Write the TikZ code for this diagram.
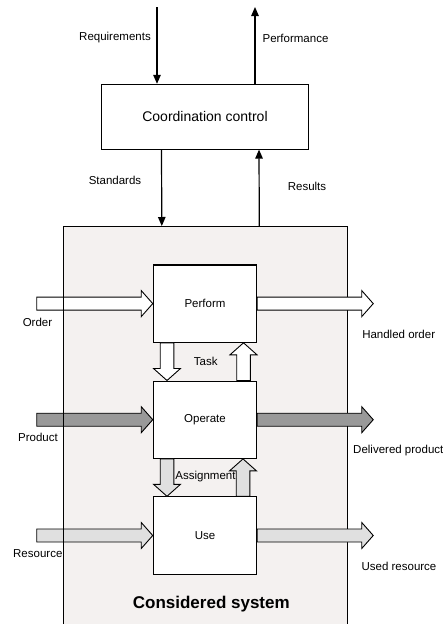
\documentclass[tikz,border=0pt]{standalone}
\usepackage{fontspec}
\setmainfont{Liberation Sans}
\usetikzlibrary{arrows.meta,calc}

\definecolor{sysfill}{HTML}{F4F1F0}
\definecolor{darkflow}{HTML}{999999}
\definecolor{lightflow}{HTML}{E0E0E0}

\tikzset{
  lbl/.style={font=\fontsize{11.5}{13}\selectfont, inner sep=0pt},
  stepbox/.style={draw, line width=1.1pt, fill=white, minimum width=103.4pt,
    minimum height=77.3pt, inner sep=0pt, font=\fontsize{11.5}{13}\selectfont},
  ctrlbox/.style={draw, line width=1.1pt, fill=white, minimum width=206.6pt,
    minimum height=64.7pt, inner sep=0pt, font=\fontsize{14}{16}\selectfont},
  sysbox/.style={draw, line width=1.1pt, minimum width=284pt,
    minimum height=420pt, inner sep=0pt},
  signal/.style={line width=1.2pt, -{Triangle[length=9pt,width=7.5pt]}},
  blockline/.style={line width=0.9pt, line join=miter},
}

% horizontal block arrow: fill, tail, tip
\newcommand{\hflow}[3]{%
  \draw[blockline, fill=#1] let \p1=(#2), \p2=(#3) in
    (\x1,\y1+6.5pt) -- (\x2-11.5pt,\y1+6.5pt) -- (\x2-11.5pt,\y1+13pt) --
    (\x2,\y1) -- (\x2-11.5pt,\y1-13pt) -- (\x2-11.5pt,\y1-6.5pt) --
    (\x1,\y1-6.5pt) -- cycle;}
% vertical block arrow: fill, tail, tip
\newcommand{\vflow}[3]{%
  \draw[blockline, fill=#1] let \p1=(#2), \p2=(#3),
      \n1={12*sign(\y2-\y1)} in
    (\x1-6.8pt,\y1) -- (\x1-6.8pt,\y2-\n1) -- (\x1-13.5pt,\y2-\n1) --
    (\x1,\y2) -- (\x1+13.5pt,\y2-\n1) -- (\x1+6.8pt,\y2-\n1) --
    (\x1+6.8pt,\y1) -- cycle;}

\begin{document}
\begin{tikzpicture}[x=1pt,y=-1pt]
\clip (0,0) rectangle (443,624);
\useasboundingbox (0,0) rectangle (443,624);

% considered system (background)
\node[sysbox, draw=none, fill=sysfill, anchor=north] (sysbg) at (205.3,226) {};

% coordination level
\node[ctrlbox] (ctrl) at (205,116.7) {Coordination control};
\coordinate (reqin) at ([xshift=-48pt]ctrl.north |- 0,7);
\coordinate (perfout) at ([xshift=50pt]ctrl.north |- 0,7);
\draw[signal] (reqin) -- ([xshift=-48pt]ctrl.north);
\draw[signal] ([xshift=50pt]ctrl.north) -- (perfout);
\draw[signal] ([xshift=-43.5pt]ctrl.south) -- ([xshift=-43.5pt]sysbg.north);
\draw[signal] ([xshift=54pt]sysbg.north) -- ([xshift=54pt]ctrl.south);

\node[lbl] (lreq) at (115,38) {Requirements};
\node[lbl] (lperf) at (295.5,38) {Performance};
\node[lbl] (lstd) at (115,180) {Standards};
\node[lbl] (lres) at (307,186) {Results};

% process steps
\node[stepbox] (perform) at (205,303.6) {Perform};
\node[stepbox] (operate) at (205,419.7) {Operate};
\node[stepbox] (use) at (205,535.5) {Use};

% inputs
\coordinate (orderin) at ([xshift=-116pt]perform.west);
\coordinate (productin) at ([xshift=-116pt]operate.west);
\coordinate (resourcein) at ([xshift=-116pt]use.west);
\hflow{white}{orderin}{perform.west}
\hflow{darkflow}{productin}{operate.west}
\hflow{lightflow}{resourcein}{use.west}

% system border over the inputs
\node[sysbox, anchor=north] (sys) at (205.3,226) {};
\node[font=\fontsize{17}{19}\selectfont\bfseries, inner sep=0pt] (lsys) at (211.3,604) {Considered system};

% outputs
\coordinate (orderout) at ([xshift=116pt]perform.east);
\coordinate (productout) at ([xshift=116pt]operate.east);
\coordinate (resourceout) at ([xshift=116pt]use.east);
\hflow{white}{perform.east}{orderout}
\hflow{darkflow}{operate.east}{productout}
\hflow{lightflow}{use.east}{resourceout}

% links between steps
\vflow{white}{[xshift=-38pt]perform.south}{[xshift=-38pt]operate.north}
\vflow{white}{[xshift=38.5pt]operate.north}{[xshift=38.5pt]perform.south}
\vflow{lightflow}{[xshift=-38pt]operate.south}{[xshift=-38pt]use.north}
\vflow{lightflow}{[xshift=38pt]use.north}{[xshift=38pt]operate.south}

% flow labels
\node[lbl] (lorder) at (37.5,322.7) {Order};
\node[lbl] (lhandled) at (398.7,334.3) {Handled order};
\node[lbl] (lproduct) at (38,437.7) {Product};
\node[lbl] (ldelivered) at (398.3,450.7) {Delivered product};
\node[lbl] (lresource) at (37.8,553.7) {Resource};
\node[lbl] (lused) at (399,566) {Used resource};
\node[lbl] (ltask) at (205.7,361.7) {Task};
\node[lbl] (lassign) at (205.5,476.3) {Assignment};
\end{tikzpicture}
\end{document}
